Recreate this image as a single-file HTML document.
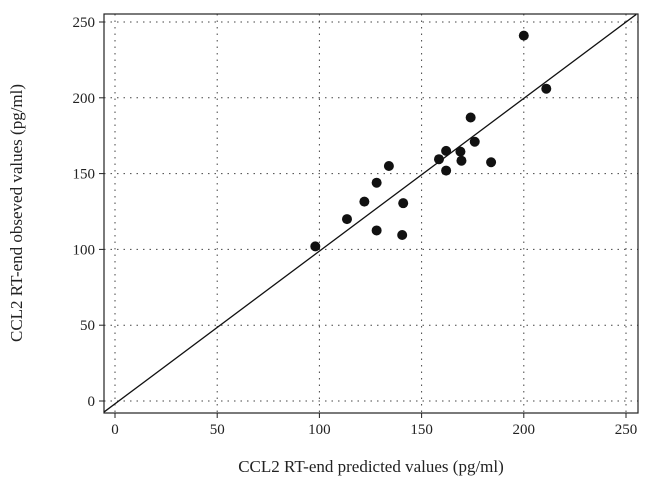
<!DOCTYPE html>
<html><head><meta charset="utf-8"><style>
body{margin:0;background:#fff}
svg text{font-family:"Liberation Serif",serif;fill:#222}
</style></head><body>
<svg id="c" width="657" height="497"></svg>
<script>
const xVals=[98,113.5,122,128,128,134,141,140.5,158.5,162,162,169,169.5,174,176,184,200,211];
const yVals=[102,120,131.5,144,112.5,155,130.5,109.5,159.5,165,152,164.5,158.5,187,171,157.5,241,206];
const xTicks=[0,50,100,150,200,250];
const yTicks=[0,50,100,150,200,250];
const NS="http://www.w3.org/2000/svg";
const svg=document.getElementById('c');
const L=104,R=638,T=14,B=413;
const sx=v=>115+v*(626-115)/250;
const sy=v=>401-v*(401-22)/250;
function mk(t,a){const e=document.createElementNS(NS,t);for(const k in a)e.setAttribute(k,a[k]);svg.appendChild(e);return e;}
xTicks.forEach(t=>{
 const g=mk('line',{x1:sx(t),x2:sx(t),y1:T,y2:B,stroke:'#444','stroke-dasharray':'1.5,5'});
 
 
 mk('line',{x1:sx(t),x2:sx(t),y1:B,y2:B+5,stroke:'#222'});
 const tx=mk('text',{x:sx(t),y:B+21,'text-anchor':'middle','font-size':15});
 tx.textContent=t;
 
 
});
yTicks.forEach(t=>{
 const g=mk('line',{x1:L,x2:R,y1:sy(t),y2:sy(t),stroke:'#444','stroke-dasharray':'1.5,5'});
 
 
 mk('line',{x1:L-5,x2:L,y1:sy(t),y2:sy(t),stroke:'#222'});
 const tx=mk('text',{x:L-9,y:sy(t)+5,'text-anchor':'end','font-size':15});
 tx.textContent=t;
 
 
});
const fr=mk('rect',{x:L,y:T,width:R-L,height:B-T,fill:'none',stroke:'#222','stroke-width':1.2});


const fit=mk('line',{x1:sx(-5.4),y1:sy(-7.3),x2:sx(255),y2:sy(255),stroke:'#111','stroke-width':1.3});


xVals.forEach((v,i)=>{
 const p=mk('circle',{cx:sx(v),cy:sy(yVals[i]),r:5,fill:'#111'});
 
 
});
const xt=mk('text',{x:371,y:472,'text-anchor':'middle','font-size':17});
xt.textContent='CCL2 RT-end predicted values (pg/ml)';


const yt=mk('text',{x:0,y:0,'text-anchor':'middle','font-size':17,transform:'translate(22,213) rotate(-90)'});
yt.textContent='CCL2 RT-end obseved values (pg/ml)';


</script>
</body></html>
